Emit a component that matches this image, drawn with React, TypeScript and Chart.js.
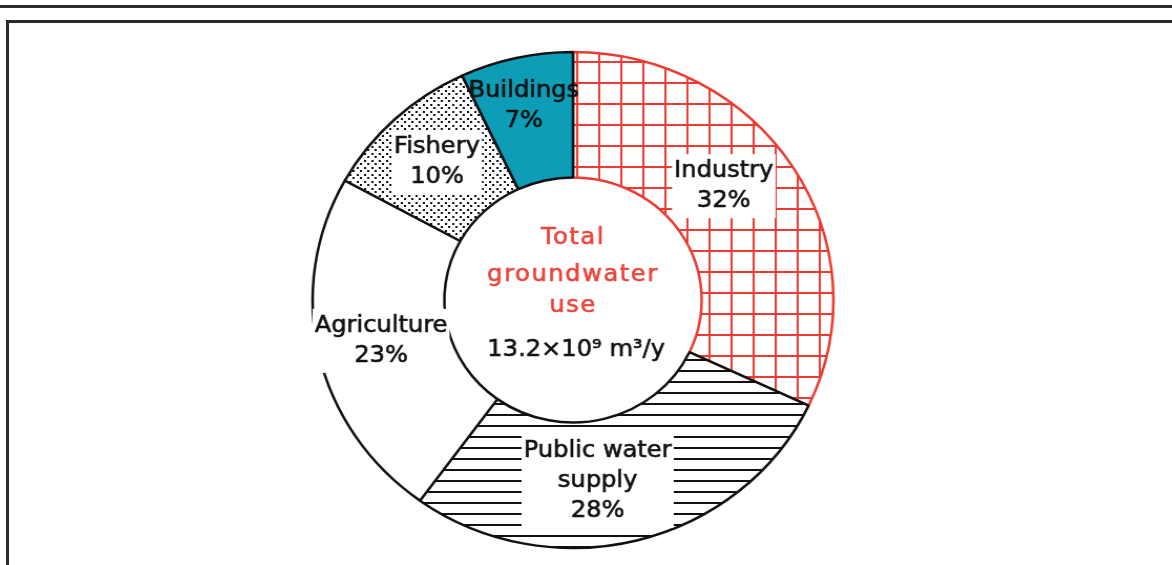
import React, { useEffect, useRef } from 'react';
import { Chart, registerables } from 'chart.js';

Chart.register(...registerables);

// ---- data ----
const categories = ['Industry', 'Public water supply', 'Agriculture', 'Fishery', 'Buildings'];
const shares = [32, 28, 23, 10, 7];
const labelLines = [['Industry'], ['Public water', 'supply'], ['Agriculture'], ['Fishery'], ['Buildings']];
const centerTitle = ['Total', 'groundwater', 'use'];
const totalUse = '13.2×10⁹ m³/y';

// ---- styles ----
const fillKinds = ['grid', 'stripes', 'white', 'dots', 'solid'];
const borderColors = ['#ec3b31', '#111111', '#111111', '#111111', '#111111'];
const labelBackdrop = [true, true, true, true, false];
const labelAngleNudge = [-6, 7, 0, 0, -1]; // degrees, label placement tweak
const labelRadiusNudge = [-2, -3, 2, 4, 14]; // px, label placement tweak
const SOLID = '#0e9db7';
const RED = '#e8453c';
const FONT = '23px "DejaVu Sans", sans-serif';

function makeFill(kind: string): any {
  if (kind === 'white') return '#ffffff';
  if (kind === 'solid') return SOLID;
  const c = document.createElement('canvas');
  const g = c.getContext('2d') as CanvasRenderingContext2D;
  if (kind === 'grid') {
    c.width = 21; c.height = 21;
    g.fillStyle = '#ffffff'; g.fillRect(0, 0, 21, 21);
    g.fillStyle = '#ee3b31';
    g.fillRect(0, 0, 2, 21);
    g.fillRect(0, 0, 21, 2);
  } else if (kind === 'stripes') {
    c.width = 4; c.height = 11;
    g.fillStyle = '#ffffff'; g.fillRect(0, 0, 4, 11);
    g.fillStyle = '#111111';
    g.fillRect(0, 0, 4, 2);
  } else if (kind === 'dots') {
    c.width = 7; c.height = 7;
    g.fillStyle = '#ffffff'; g.fillRect(0, 0, 7, 7);
    g.fillStyle = '#111111';
    g.fillRect(1, 1, 2, 2);
    g.fillRect(4, 4, 2, 2);
  }
  return g.createPattern(c, 'repeat');
}

function boldText(ctx: CanvasRenderingContext2D, t: string, x: number, y: number) {
  ctx.strokeText(t, x, y);
  ctx.fillText(t, x, y);
}

const labelPlugin = {
  id: 'sliceLabels',
  afterDatasetsDraw(chart: any) {
    const ctx: CanvasRenderingContext2D = chart.ctx;
    const meta = chart.getDatasetMeta(0);
    ctx.save();
    ctx.font = FONT;
    ctx.textAlign = 'center';
    ctx.textBaseline = 'middle';
    ctx.lineWidth = 0.6;
    ctx.lineJoin = 'round';
    const lh = 30;
    let cx0 = 0, cy0 = 0;
    meta.data.forEach((arc: any, i: number) => {
      const p = arc.getProps(['x', 'y', 'startAngle', 'endAngle', 'innerRadius', 'outerRadius'], true);
      cx0 = p.x; cy0 = p.y;
      const mid = (p.startAngle + p.endAngle) / 2 + (labelAngleNudge[i] * Math.PI) / 180;
      const r = (p.innerRadius + p.outerRadius) / 2 + labelRadiusNudge[i];
      const cx = p.x + Math.cos(mid) * r;
      const cy = p.y + Math.sin(mid) * r;
      const lines = [...labelLines[i], `${shares[i]}%`];
      const w = Math.max(...lines.map((l) => ctx.measureText(l).width)) + 4;
      const h = lines.length * lh + 4;
      if (labelBackdrop[i]) {
        ctx.fillStyle = '#ffffff';
        ctx.fillRect(cx - w / 2, cy - h / 2, w, h);
      }
      ctx.fillStyle = '#111111';
      ctx.strokeStyle = '#111111';
      lines.forEach((l, k) => {
        boldText(ctx, l, cx, cy - ((lines.length - 1) * lh) / 2 + k * lh);
      });
    });
    // centre text
    ctx.textBaseline = 'alphabetic';
    ctx.fillStyle = RED;
    ctx.strokeStyle = RED;
    (ctx as any).letterSpacing = '1.5px';
    const baselines = [-56, -19, 12];
    centerTitle.forEach((t, k) => boldText(ctx, t, cx0, cy0 + baselines[k]));
    (ctx as any).letterSpacing = '0px';
    ctx.fillStyle = '#111111';
    ctx.strokeStyle = '#111111';
    boldText(ctx, totalUse, cx0 + 3, cy0 + 56);
    ctx.restore();
  },
};

export default function App() {
  const ref = useRef<HTMLCanvasElement | null>(null);
  useEffect(() => {
    if (!ref.current) return;
    const chart = new Chart(ref.current, {
      type: 'doughnut',
      data: {
        labels: categories,
        datasets: [
          {
            data: shares,
            backgroundColor: fillKinds.map(makeFill),
            borderColor: borderColors,
            borderWidth: 2.5,
          },
        ],
      },
      options: {
        responsive: false,
        maintainAspectRatio: false,
        animation: false,
        devicePixelRatio: 1,
        radius: 248,
        cutout: '49.4%',
        layout: { padding: 0 },
        plugins: { legend: { display: false }, tooltip: { enabled: false } },
      } as any,
      plugins: [labelPlugin],
    });
    return () => chart.destroy();
  }, []);

  return (
    <div style={{ position: 'fixed', left: 0, top: 0, width: 1172, height: 565, overflow: 'hidden', background: '#fff' }}>
      <div style={{ position: 'absolute', left: 0, top: 5, width: 1172, height: 3, background: '#2b2b2b' }} />
      <div
        style={{
          position: 'absolute',
          left: 6,
          top: 20,
          width: 1200,
          height: 600,
          borderTop: '3px solid #2b2b2b',
          borderLeft: '3px solid #2b2b2b',
        }}
      />
      <div
        style={{
          position: 'absolute',
          left: 303,
          top: 40,
          width: 540,
          height: 520,
          transform: 'scaleX(1.05)',
          transformOrigin: '50% 50%',
        }}
      >
        <canvas ref={ref} width={540} height={520} style={{ display: 'block' }} />
      </div>
    </div>
  );
}
